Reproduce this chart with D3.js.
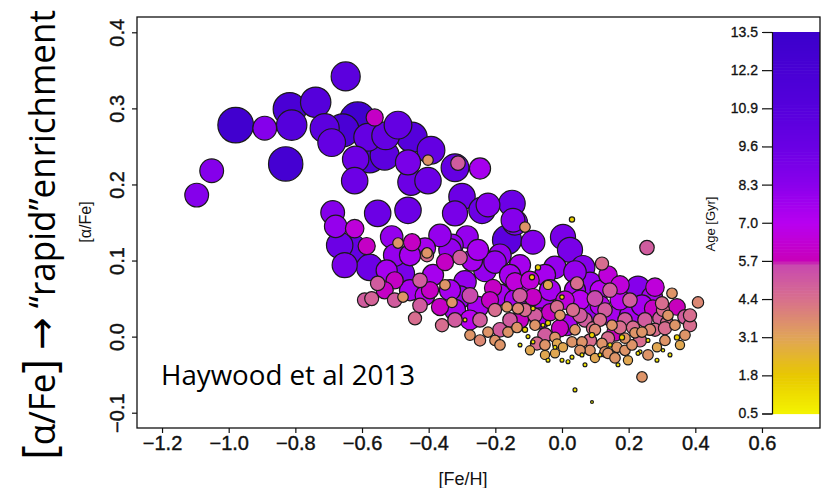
<!DOCTYPE html>
<html><head><meta charset="utf-8">
<script src="https://cdn.jsdelivr.net/npm/d3@7"></script>
<style>body{margin:0;background:#fff}svg{display:block}</style>
</head><body><svg id="c" width="830" height="488"></svg>
<script>
// ---- tick labels ----
const xTicks = [-1.2, -1.0, -0.8, -0.6, -0.4, -0.2, 0.0, 0.2, 0.4, 0.6];
const yTicks = [-0.1, 0.0, 0.1, 0.2, 0.3, 0.4];
const ageTicks = [0.5, 1.8, 3.1, 4.4, 5.7, 7.0, 8.3, 9.6, 10.9, 12.2, 13.5];
// ---- colour map (age in Gyr -> colour) ----
const ageStops   = [0.5, 1.8, 3.1, 4.4, 5.6, 5.7, 7.0, 8.3, 9.6, 10.9, 12.2, 13.5];
const colorStops = ["#f4f400", "#e8c800", "#e0a458", "#d8708c", "#c848b0", "#c800b8",
                    "#b800f0", "#8a00ec", "#6a00e4", "#5600dc", "#4800d4", "#3c00cc"];
// ---- stars: [Fe/H], [alpha/Fe], age (Gyr) ----
const oldStars = [
 [-0.979,0.278,13],[-0.817,0.299,12],[-0.811,0.278,11],[-0.829,0.227,12.5],[-0.739,0.308,11],
 [-0.712,0.274,10.5],[-0.691,0.255,10],[-0.649,0.342,10.5],[-0.658,0.271,12],[-0.613,0.285,13],
 [-0.583,0.262,10],[-0.529,0.264,10],[-0.619,0.233,9.5],[-0.492,0.278,10],[-0.450,0.262,11],
 [-0.462,0.229,9],[-0.577,0.236,11.5],[-0.532,0.238,10.5],[-0.393,0.245,10],[-0.622,0.205,9.5],
 [-0.453,0.203,9.5],[-0.402,0.205,9.5],[-0.321,0.222,10],[-0.300,0.184,9.5],[-0.321,0.162,9],
 [-0.240,0.166,9.5],[-0.150,0.175,9.5],[-0.141,0.150,9],[-0.462,0.166,9.5],[-0.553,0.162,9.5],
 [-0.628,0.116,10],[-0.165,0.127,10.5],[0.003,0.131,9],[0.024,0.114,9],[-0.577,0.091,9.5],
 [-0.480,0.083,9],[-0.652,0.094,9],[-0.667,0.120,9.5]
];
const thickStars = [
 [-1.096,0.186,8.5],[-1.051,0.218,8.5],[-0.892,0.274,8.5],[-0.688,0.163,8.5],[-0.679,0.145,8],
 [-0.511,0.131,8],[-0.526,0.087,7.5],[-0.246,0.221,7.5],[-0.285,0.131,8],[-0.087,0.124,8.5],
 [-0.222,0.173,8.5],[-0.147,0.153,8.5],[-0.411,0.116,7.5],[-0.387,0.081,7.5],[-0.270,0.100,7.5],
 [-0.231,0.087,8],[-0.291,0.072,8],[-0.306,0.052,8],[-0.252,0.039,7.5],[-0.021,0.091,8],
 [0.063,0.091,8.5],[0.084,0.070,8],[0.039,0.085,8],[-0.057,0.048,7.5],[-0.066,0.024,7.5],
 [0.015,0.015,7.5],[0.078,0.031,8],[0.153,0.026,7.5],[0.204,0.028,7.5],[0.228,0.064,8.5],
 [0.270,0.052,7.5],[0.240,0.041,7.5],[-0.502,0.107,8],[-0.456,0.061,7.5],[-0.411,0.054,7],
 [-0.336,0.061,7.5],[-0.330,0.120,8],[-0.186,0.107,8],[-0.126,0.094,7.5],[-0.186,0.055,7.5],
 [-0.111,0.061,7],[-0.051,0.081,7.5],[0.114,0.061,7],[0.174,0.048,7],[0.114,0.041,7],[0.054,0.048,7],
 [-0.336,0.114,8],[-0.252,0.114,7.5],[-0.201,0.098,8],[-0.156,0.081,7.5],[-0.321,0.035,7.5],
 [-0.276,0.022,7],[-0.141,0.048,7.5],[-0.036,0.061,7.5],[0.039,0.061,7.5],[-0.456,0.107,7.5],
 [-0.366,0.133,8]
];
const magentaStars = [
 [-0.562,0.288,6],[-0.622,0.142,6.5],[-0.586,0.119,6],[-0.450,0.124,6],[-0.351,0.098,6],
 [-0.366,0.039,6],[-0.207,0.064,6],[-0.141,0.072,6.5],[0.138,0.081,6.5],[-0.036,0.032,6],
 [-0.006,0.011,6],[-0.087,0.052,6],[0.159,0.005,5.8],[0.279,0.065,6.5],[0.273,0.037,6],
 [0.345,0.039,5.8],[-0.502,0.074,6],[-0.276,0.054,5.5],[0.099,0.050,5.5],[-0.096,0.074,6.5],
 [-0.216,0.048,6],[0.009,0.048,6.5],[0.174,0.068,6.5],[-0.396,0.061,6],[-0.532,0.061,6],
 [-0.126,0.022,6]
];
const pinkStars = [
 [-0.312,0.228,5],[-0.553,0.070,5],[-0.306,0.104,5],[-0.405,0.107,4.5],[-0.360,0.015,4.5],
 [-0.201,0.035,4.5],[-0.186,0.009,5],[-0.111,0.035,4.5],[-0.015,0.039,4.5],[0.033,0.035,4.5],
 [-0.075,-0.009,4.5],[0.120,0.096,4.5],[0.255,0.117,5],[0.093,0.011,4.5],[0.114,0.022,4.5],
 [0.138,-0.002,4.5],[0.174,0.012,4.5],[0.213,0.012,4.5],[0.303,0.035,4.5],[0.315,0.018,4.5],
 [0.369,0.026,5],[0.300,0.044,4.5],[0.045,0.070,4.5],[-0.426,0.074,5],[-0.321,0.022,5],
 [-0.246,0.022,5],[-0.156,0.022,5],[-0.126,0.054,5],[-0.051,0.002,5],[0.069,0.022,5],
 [0.084,-0.005,4.5],[0.189,0.022,5],[0.249,0.022,5],[0.279,0.009,4.5],[0.234,-0.005,4.5],
 [0.384,0.015,4.5],[0.144,0.061,5],[-0.592,0.048,5],[-0.441,0.024,4.5],[0.204,0.048,5],
 [0.294,0.024,5],[0.129,0.035,5],[0.054,0.028,5],[0.309,0.011,4.5],[0.384,0.028,4.5],
 [-0.426,0.041,5],[-0.502,0.048,5],[-0.571,0.050,4.8],[-0.081,0.028,5]
];
const tanStars = [
 [-0.402,0.232,3.5],[-0.492,0.123,3.5],[-0.477,0.052,3.5],[-0.405,0.110,3.5],[-0.111,0.144,3.5],
 [-0.165,0.039,3.5],[-0.222,0.006,3.5],[-0.162,0.006,3.5],[-0.135,0.012,3.5],[-0.081,0.015,3.5],
 [-0.132,0.037,3.8],[-0.006,0.028,3.5],[-0.021,-0.001,3.5],[-0.015,-0.009,3],[-0.021,-0.022,3],
 [0.003,-0.014,3],[0.030,-0.007,3.5],[0.060,-0.007,3.5],[0.120,-0.009,3.5],[0.129,-0.020,3.5],
 [0.138,-0.022,3.5],[0.165,-0.014,3.5],[0.189,-0.018,3.5],[0.219,0.005,3.5],[0.240,0.006,3.5],
 [0.285,-0.014,3],[0.318,0.028,3.5],[0.339,0.015,3.5],[0.330,0.057,3.5],[0.408,0.045,3.8],
 [0.240,-0.053,3.5],[-0.042,0.068,3],[-0.276,0.002,3.5],[-0.201,-0.005,3.5],[-0.051,-0.011,3.5],
 [0.084,-0.018,3.5],[0.099,-0.028,3],[0.159,-0.028,3.5],[0.210,-0.011,3.5],[0.258,-0.024,3.5],
 [0.309,-0.005,3.5],[0.369,0.002,3.5],[0.354,-0.011,3],[-0.330,0.045,3.5],[-0.351,0.068,3.5],
 [-0.096,-0.018,3],[0.039,0.009,3.5],[0.150,0.015,3.5],[0.099,0.009,3.8],[0.189,-0.002,3.5],
 [0.264,0.009,3.8],[-0.186,-0.011,3.5],[-0.246,-0.005,3.8],[-0.051,-0.024,3],[0.054,-0.018,3.5],
 [0.198,-0.031,3]
];
const youngStars = [
 [0.030,0.154,1.5],[-0.072,0.091,1.5],[-0.090,0.078,1.5],[0.000,0.052,1.2],[-0.087,0.037,1.2],
 [-0.291,0.022,1],[-0.111,0.009,1.5],[-0.057,0.015,1],[-0.102,0.000,1],[-0.087,-0.007,1],
 [0.000,-0.031,1],[0.030,-0.027,1],[0.018,-0.033,1],[0.060,-0.024,1],[0.090,0.002,1.5],
 [0.114,-0.024,1],[0.180,-0.001,1.5],[0.258,-0.005,1],[0.234,-0.020,1],[0.324,-0.024,1],
 [0.303,-0.018,0.8],[0.345,-0.001,1.5],[0.168,-0.037,1],[0.228,-0.022,1],[0.039,-0.070,1],
 [0.090,-0.086,0.6],[-0.042,0.018,1.5],[-0.021,-0.014,1],[0.144,-0.011,1.2],[0.069,-0.037,1],
 [-0.042,-0.031,1],[0.285,-0.031,1],[-0.126,-0.011,1]
];

// ---- layout ----
const svg = d3.select("#c");
const box = {l: 137, r: 820, t: 17, b: 428};
const x = d3.scaleLinear().domain([-1.2751, 0.7741]).range([box.l, box.r]);
const y = d3.scaleLinear().domain([-0.1201, 0.4201]).range([box.b, box.t]);
const color = d3.scaleLinear().domain(ageStops).range(colorStops).clamp(true);
const rad = d3.scaleLinear().domain([0.5, 13.5]).range([1.3, 18.5]);
const fmt = d => d3.format(".1f")(d);
const tickFont = "'Liberation Sans', Arial, sans-serif";
const ink = "#111";

svg.append("clipPath").attr("id", "clip").append("rect")
  .attr("x", box.l).attr("y", box.t).attr("width", box.r - box.l).attr("height", box.b - box.t);

// points (oldest drawn first)
const stars = [].concat(oldStars, thickStars, magentaStars, pinkStars, tanStars, youngStars);
const sorted = d3.sort(stars, (a, b) => b[2] - a[2]);
svg.append("g").attr("clip-path", "url(#clip)")
  .selectAll("circle").data(sorted).join("circle")
  .attr("cx", d => x(d[0])).attr("cy", d => y(d[1])).attr("r", d => rad(d[2]))
  .attr("fill", d => color(d[2])).attr("stroke", "#1a1a1a").attr("stroke-width", 1.2);

// colour bar
const cb = d3.scaleLinear().domain([0.5, 13.5]).range([413.5, 32]);
const cbSteps = d3.range(0.5, 13.5, 0.1);
svg.append("g").selectAll("rect").data(cbSteps).join("rect")
  .attr("x", 772).attr("width", box.r - 772)
  .attr("y", d => cb(d + 0.1)).attr("height", d => cb(d) - cb(d + 0.1) + 0.6)
  .attr("fill", d => color(d + 0.05));
const cbAxis = svg.append("g").attr("transform", "translate(772,0)")
  .call(d3.axisLeft(cb).tickValues(ageTicks).tickSize(10).tickPadding(4).tickFormat(fmt));
cbAxis.select(".domain").attr("stroke", ink).attr("stroke-width", 1.2);
cbAxis.selectAll("line").attr("stroke", ink).attr("stroke-width", 1.2);
cbAxis.selectAll("text").attr("font-family", tickFont).attr("font-size", 14).attr("fill", ink)
  .attr("stroke", ink).attr("stroke-width", 0.3);
svg.append("text").attr("transform", "translate(715,224) rotate(-90)")
  .attr("text-anchor", "middle").attr("font-family", tickFont).attr("font-size", 13)
  .attr("fill", ink).text("Age [Gyr]");

// axes
const xa = svg.append("g").attr("transform", `translate(0,${box.b})`)
  .call(d3.axisBottom(x).tickValues(xTicks).tickSize(5).tickPadding(3).tickFormat(fmt));
xa.select(".domain").remove();
xa.selectAll("line").attr("stroke", ink).attr("stroke-width", 1.2);
xa.selectAll("text").attr("font-family", tickFont).attr("font-size", 20).attr("fill", ink)
  .attr("stroke", ink).attr("stroke-width", 0.4);

const ya = svg.append("g").attr("transform", `translate(${box.l},0)`)
  .call(d3.axisLeft(y).tickValues(yTicks).tickSize(5).tickFormat(fmt));
ya.select(".domain").remove();
ya.selectAll("line").attr("stroke", ink).attr("stroke-width", 1.2);
ya.selectAll("text").attr("x", null).attr("dy", null).attr("text-anchor", "middle")
  .attr("transform", "translate(-13,0) rotate(-90)")
  .attr("font-family", tickFont).attr("font-size", 20).attr("fill", ink)
  .attr("stroke", ink).attr("stroke-width", 0.4);

// box
svg.append("rect").attr("x", box.l).attr("y", box.t)
  .attr("width", box.r - box.l).attr("height", box.b - box.t)
  .attr("fill", "none").attr("stroke", ink).attr("stroke-width", 1.3);

// axis titles
svg.append("text").attr("x", 463).attr("y", 485).attr("text-anchor", "middle")
  .attr("font-family", tickFont).attr("font-size", 18).attr("fill", ink).text("[Fe/H]");
svg.append("text").attr("transform", "translate(91,222) rotate(-90)").attr("text-anchor", "middle")
  .attr("font-family", tickFont).attr("font-size", 16).attr("fill", ink).text("[α/Fe]");

// annotation
svg.append("text").attr("x", 161).attr("y", 385)
  .attr("font-family", "'Open Sans', 'Liberation Sans', sans-serif").attr("font-size", 27)
  .attr("textLength", 254).attr("lengthAdjust", "spacingAndGlyphs")
  .attr("fill", "#000").text("Haywood et al 2013");

// big side label
const side = svg.append("text").attr("font-family", "'Open Sans', 'Liberation Sans', sans-serif")
  .attr("fill", "#000").attr("font-size", 36);
side.append("tspan").attr("font-size", 46).text("[");
side.append("tspan").text("α/Fe");
side.append("tspan").attr("font-size", 46).text("]");
side.append("tspan").text(" ");
side.append("tspan").attr("font-family", "'DejaVu Sans', sans-serif").attr("font-size", 40).text("→");
side.append("tspan").text(" “rapid”enrichment");
const len = side.node().getComputedTextLength();
const s = 450 / len;
side.attr("transform", `translate(55,460) rotate(-90) scale(${s},1)`);
</script></body></html>
